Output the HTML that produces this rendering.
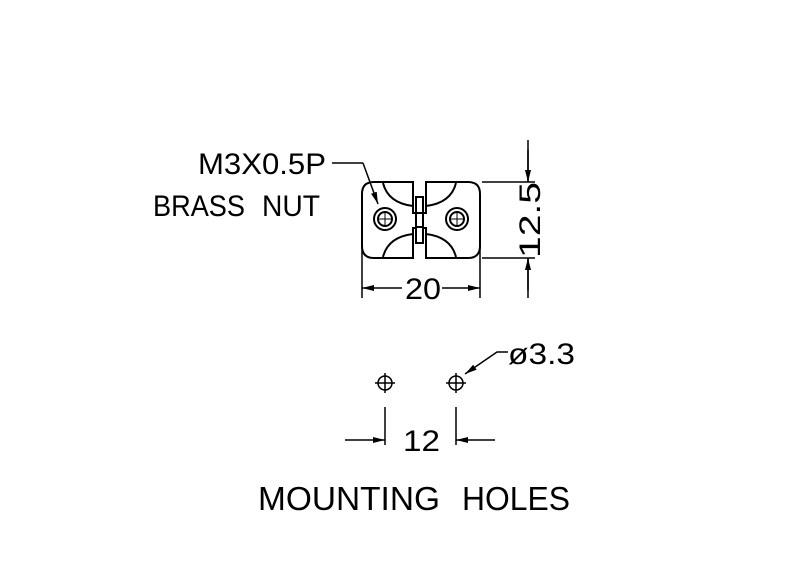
<!DOCTYPE html>
<html><head><style>html,body{margin:0;padding:0;background:#fff}</style></head>
<body>
<svg width="800" height="576" viewBox="0 0 800 576" xmlns="http://www.w3.org/2000/svg" font-family="Liberation Sans, sans-serif" fill="none" stroke="#000">
<defs>
<marker id="a" markerWidth="12" markerHeight="6" refX="12" refY="3" orient="auto" markerUnits="userSpaceOnUse"><path d="M0,0 L12,3 L0,6z" fill="#000" stroke="none"/></marker>
</defs>
<g stroke-width="2">
<path d="M413,182 H374 Q362,182 362,194 V246 Q362,258 374,258 H413 V228 H416 V213 H413 Z"/>
<path d="M426,182 H468 Q480,182 480,194 V246 Q480,258 468,258 H426 V228 H423 V213 H426 Z"/>
<rect x="416" y="197" width="7" height="16"/>
<rect x="416" y="227" width="7" height="16"/>
<path d="M383,183 Q388,203 413,206"/>
<path d="M383,257 Q388,237 413,234"/>
<path d="M456,183 Q451,203 426,206"/>
<path d="M456,257 Q451,237 426,234"/>
<circle cx="385" cy="219" r="11"/><circle cx="385" cy="219" r="7"/>
<circle cx="457" cy="219" r="11"/><circle cx="457" cy="219" r="7"/>
</g>
<g stroke-width="1"><path d="M378,219 H392 M385,212 V226 M450,219 H464 M457,212 V226"/></g>
<g stroke-width="1.5">
<path d="M482,182 H535 M482,258 H535 M528,140 V182 M528,258 V298"/>
<path d="M528,150 V182" marker-end="url(#a)"/>
<path d="M528,290 V258" marker-end="url(#a)"/>
<path d="M362,245 V298 M480,245 V298"/>
<path d="M402,288 H362" marker-end="url(#a)"/>
<path d="M442,288 H480" marker-end="url(#a)"/>
<path d="M332,163 H363" />
<path d="M363,163 L378,204" marker-end="url(#a)"/>
</g>
<g fill="#000" stroke="none" font-size="30">
<text x="405" y="299" textLength="36" lengthAdjust="spacingAndGlyphs">20</text>
<text transform="translate(540,258) rotate(-90)" textLength="76" lengthAdjust="spacingAndGlyphs">12.5</text>
<text x="198" y="174" textLength="128" lengthAdjust="spacingAndGlyphs">M3X0.5P</text>
<text x="153" y="216" textLength="92" lengthAdjust="spacingAndGlyphs">BRASS</text>
<text x="262" y="216" textLength="58" lengthAdjust="spacingAndGlyphs">NUT</text>
</g>
<g stroke-width="1.5">
<circle cx="385" cy="383" r="7"/><circle cx="456" cy="383" r="7"/>
<path d="M375,383 H395 M385,373 V393 M446,383 H466 M456,373 V393"/>
<path d="M385,407 V445 M456,407 V445"/>
<path d="M345,440 H385" marker-end="url(#a)"/>
<path d="M495,440 H456" marker-end="url(#a)"/>
<path d="M508,352 H497 L465,374" marker-end="url(#a)"/>
</g>
<g fill="#000" stroke="none" font-size="30">
<text x="403" y="451" textLength="37" lengthAdjust="spacingAndGlyphs">12</text>
<text x="508" y="364" textLength="67" lengthAdjust="spacingAndGlyphs">ø3.3</text>
<text x="258" y="510" textLength="182" lengthAdjust="spacingAndGlyphs" font-size="33">MOUNTING</text>
<text x="462" y="510" textLength="108" lengthAdjust="spacingAndGlyphs" font-size="33">HOLES</text>
</g>
</svg>
</body></html>
